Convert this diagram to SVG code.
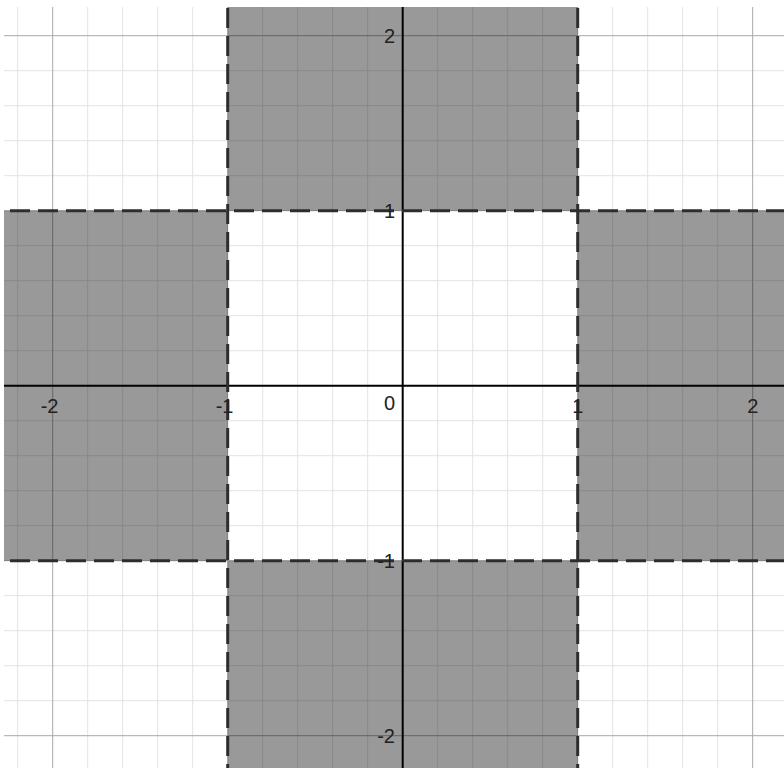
<svg xmlns="http://www.w3.org/2000/svg" width="784" height="769" viewBox="0 0 784 769">
  <defs>
    <clipPath id="plot">
      <rect x="4" y="7" width="780" height="761"/>
    </clipPath>
    <style>
      .minor { stroke: #e3e3e3; stroke-width: 1; fill: none; }
      .major { stroke: #a8a8a8; stroke-width: 1; fill: none; }
      .shade { fill: #000000; fill-opacity: 0.4; stroke: none; }
      .axis { stroke: #000000; stroke-width: 2; fill: none; }
      .bound { stroke: #2d2d2d; stroke-width: 3; stroke-dasharray: 20 8; fill: none; }
      .lbl { font-family: "Liberation Sans", Arial, sans-serif; font-size: 20px; fill: #222222; }
    </style>
  </defs>
  <rect x="0" y="0" width="784" height="769" fill="#ffffff"/>
  <g clip-path="url(#plot)">
    <g id="minor-grid" class="minor">
      <path d="M17.7 7V768 M87.7 7V768 M122.7 7V768 M157.7 7V768 M192.7 7V768 M262.7 7V768 M297.7 7V768 M332.7 7V768 M367.7 7V768 M437.7 7V768 M472.7 7V768 M507.7 7V768 M542.7 7V768 M612.7 7V768 M647.7 7V768 M682.7 7V768 M717.7 7V768"/>
      <path d="M4 70.7H784 M4 105.7H784 M4 140.7H784 M4 175.7H784 M4 245.7H784 M4 280.7H784 M4 315.7H784 M4 350.7H784 M4 420.7H784 M4 455.7H784 M4 490.7H784 M4 525.7H784 M4 595.7H784 M4 630.7H784 M4 665.7H784 M4 700.7H784"/>
    </g>
    <g id="major-grid" class="major">
      <path d="M52.7 7V768 M227.7 7V768 M577.7 7V768 M752.7 7V768"/>
      <path d="M4 35.7H784 M4 210.7H784 M4 560.7H784 M4 735.7H784"/>
    </g>
    <g id="shaded-regions">
      <rect id="region-top" class="shade" x="227.7" y="7" width="350" height="203.7"/>
      <rect id="region-left" class="shade" x="4" y="210.7" width="223.7" height="350"/>
      <rect id="region-right" class="shade" x="577.7" y="210.7" width="206.3" height="350"/>
      <rect id="region-bottom" class="shade" x="227.7" y="560.7" width="350" height="207.3"/>
    </g>
    <g id="axes" class="axis">
      <line x1="4" y1="385.7" x2="784" y2="385.7"/>
      <line x1="402.7" y1="7" x2="402.7" y2="768"/>
    </g>
    <g id="boundaries" class="bound">
      <line x1="10" y1="210.7" x2="784" y2="210.7"/>
      <line x1="10" y1="560.7" x2="784" y2="560.7"/>
      <line x1="227.7" y1="8" x2="227.7" y2="768"/>
      <line x1="577.7" y1="8" x2="577.7" y2="768"/>
    </g>
  </g>
  <g id="labels" class="lbl">
    <text x="58.5" y="413" text-anchor="end">-2</text>
    <text x="233.5" y="413" text-anchor="end">-1</text>
    <text x="395" y="410" text-anchor="end">0</text>
    <text x="577.7" y="413" text-anchor="middle">1</text>
    <text x="752.7" y="413" text-anchor="middle">2</text>
    <text x="395" y="43" text-anchor="end">2</text>
    <text x="395" y="218" text-anchor="end">1</text>
    <text x="395" y="568" text-anchor="end">-1</text>
    <text x="395" y="743" text-anchor="end">-2</text>
  </g>
</svg>
